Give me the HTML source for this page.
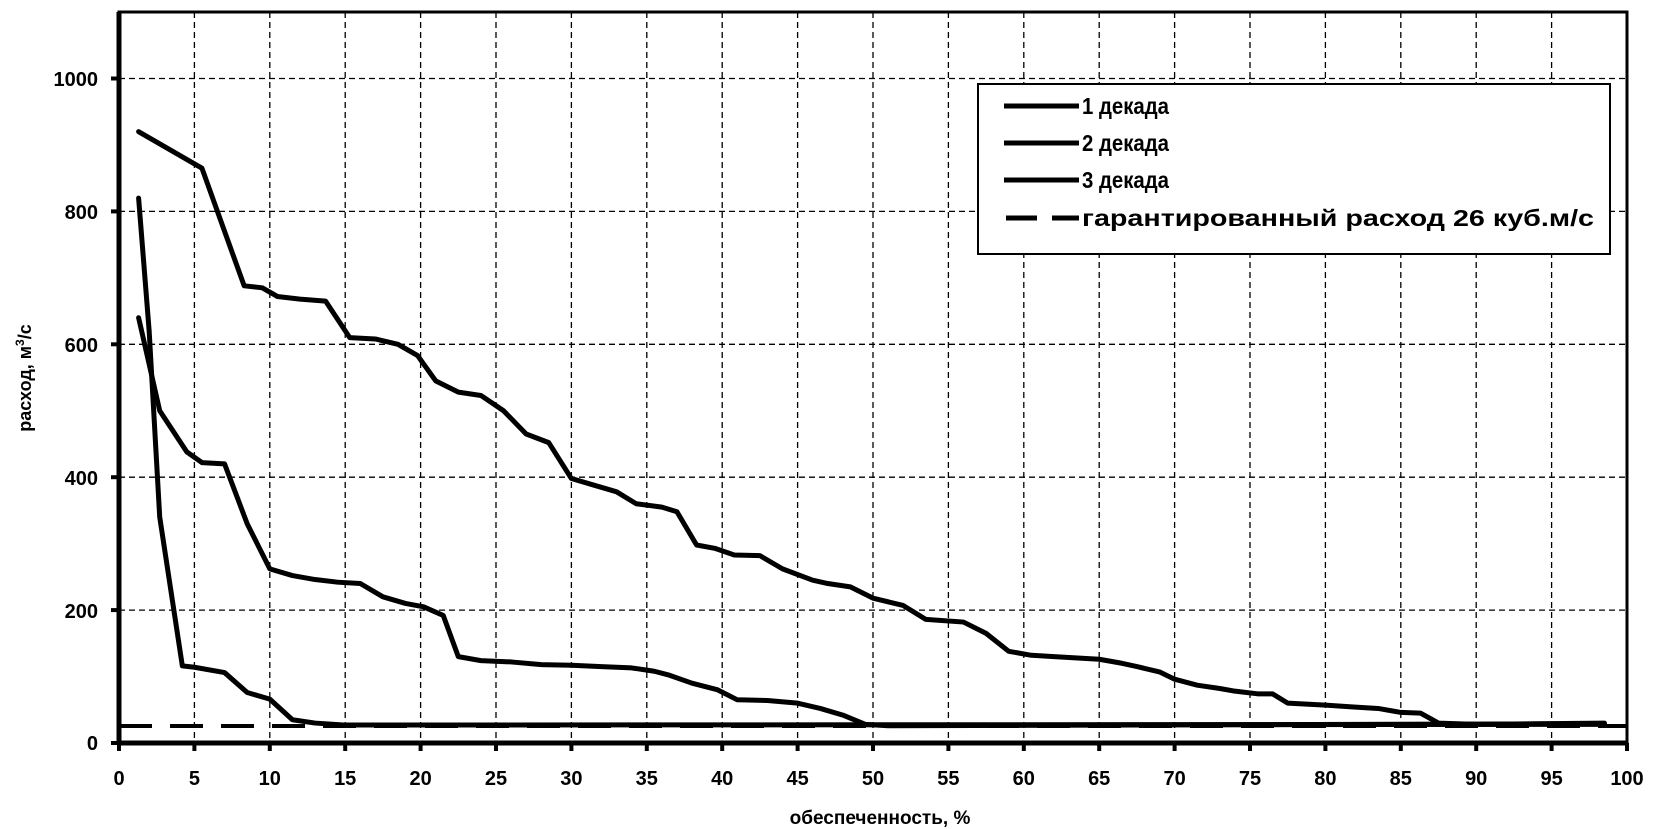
<!DOCTYPE html>
<html><head><meta charset="utf-8"><style>
html,body{margin:0;padding:0;background:#fff;}
svg{display:block;}
text{font-family:"Liberation Sans",Arial,sans-serif;font-weight:bold;fill:#000;}
</style></head><body>
<svg id="s" width="1654" height="829" viewBox="0 0 1654 829" xmlns="http://www.w3.org/2000/svg">
<g id="grid"></g>
<g id="curves" fill="none" stroke="#000" stroke-width="5" stroke-linejoin="round" stroke-linecap="round"></g>
<line x1="119" y1="726" x2="1627" y2="726" stroke="#000" stroke-width="4" stroke-dasharray="33 18"/>
<rect x="119" y="12" width="1508" height="731" fill="none" stroke="#000" stroke-width="3"/>
<line x1="119" y1="12" x2="119" y2="743" stroke="#000" stroke-width="5"/>
<line x1="119" y1="743" x2="1627" y2="743" stroke="#000" stroke-width="5"/>
<g id="ticks"></g>
<g font-size="20" text-anchor="end">
<text x="98" y="750">0</text><text x="98" y="618">200</text><text x="98" y="485">400</text>
<text x="98" y="352">600</text><text x="98" y="219">800</text><text x="98" y="86">1000</text>
</g>
<g id="xl" font-size="20" text-anchor="middle"></g>
<text x="880" y="824" font-size="19" text-anchor="middle">обеспеченность, %</text>
<text transform="translate(31,378) rotate(-90)" font-size="18" text-anchor="middle">расход, м<tspan font-size="12" dy="-7">3</tspan><tspan dy="7">/с</tspan></text>
<rect x="978" y="84" width="632" height="170" fill="#fff" stroke="#000" stroke-width="2"/>
<g stroke="#000" stroke-width="5">
<line x1="1004" y1="106" x2="1079" y2="106"/>
<line x1="1004" y1="143" x2="1079" y2="143"/>
<line x1="1004" y1="180" x2="1079" y2="180"/>
<line x1="1006" y1="218" x2="1037" y2="218"/><line x1="1052" y1="218" x2="1079" y2="218"/>
</g>
<g font-size="23">
<text x="1082" y="114" textLength="87" lengthAdjust="spacingAndGlyphs">1 декада</text>
<text x="1082" y="151" textLength="87" lengthAdjust="spacingAndGlyphs">2 декада</text>
<text x="1082" y="188" textLength="87" lengthAdjust="spacingAndGlyphs">3 декада</text>
<text x="1082" y="226" textLength="512" lengthAdjust="spacingAndGlyphs">гарантированный расход 26 куб.м/с</text>
</g>
</svg>
<script>
var X=p=>119+p*15.08, Y=v=>743-v*0.6645;
var ns="http://www.w3.org/2000/svg";
function el(par,t,a){var e=document.createElementNS(ns,t);for(var k in a)e.setAttribute(k,a[k]);document.getElementById(par).appendChild(e);return e;}
for(var i=1;i<20;i++){el("grid","line",{x1:X(i*5),x2:X(i*5),y1:12,y2:743,stroke:"#000","stroke-width":1.3,"stroke-dasharray":"6 4"});}
for(var v=200;v<=1000;v+=200){el("grid","line",{x1:119,x2:1627,y1:Y(v),y2:Y(v),stroke:"#000","stroke-width":1.3,"stroke-dasharray":"6 4"});
 el("ticks","line",{x1:111,x2:119,y1:Y(v),y2:Y(v),stroke:"#000","stroke-width":4});}
el("ticks","line",{x1:111,x2:119,y1:743,y2:743,stroke:"#000","stroke-width":4});
for(var i=0;i<=20;i++){el("ticks","line",{x1:X(i*5),x2:X(i*5),y1:743,y2:751,stroke:"#000","stroke-width":4});
 var t=el("xl","text",{x:X(i*5),y:785});t.textContent=String(i*5);}
var A=[[1.3,920],[5.5,865],[7,770],[8.3,688],[9.5,685],[10.5,672],[12,668],[13.7,665],[15.3,610],[17,608],[18.5,600],[19.8,583],[21,545],[22.5,528],[24,523],[25.5,500],[27,465],[28.5,452],[30,398],[31.5,388],[33,378],[34.3,360],[36,355],[37,348],[38.3,298],[39.5,293],[40.8,283],[42.5,282],[44,262],[46,245],[47,240],[48.5,235],[50,218],[52,207],[53.5,186],[56,182],[57.5,165],[59,138],[60.5,132],[62,130],[65,126],[66.5,120],[67.5,115],[69,107],[70,96],[71.5,87],[73,82],[74,78],[75.5,74],[76.5,74],[77.5,60],[80,57],[82,54],[83.5,52],[85,46],[86.3,45],[87.5,30],[90,28],[98.5,30]];
var B=[[1.3,640],[2.7,500],[4.5,438],[5.5,422],[7,420],[8.5,330],[10,262],[11.5,252],[13,246],[14.5,242],[16,240],[17.5,220],[19,210],[20.2,205],[21.5,192],[22.5,130],[24,124],[26,122],[28,118],[30,117],[32,115],[34,113],[35.5,108],[36.5,102],[38,90],[39.7,80],[41,65],[43,64],[45,60],[46.5,52],[48,42],[49.5,28],[51,26],[98.5,29]];
var C=[[1.3,820],[2,620],[2.7,340],[4.2,116],[5,114],[7,106],[8.5,76],[10,66],[11.5,35],[13,30],[15,27],[98.5,28]];
[A,B,C].forEach(d=>el("curves","polyline",{points:d.map(p=>X(p[0])+","+Y(p[1])).join(" ")}));
</script>
</body></html>
